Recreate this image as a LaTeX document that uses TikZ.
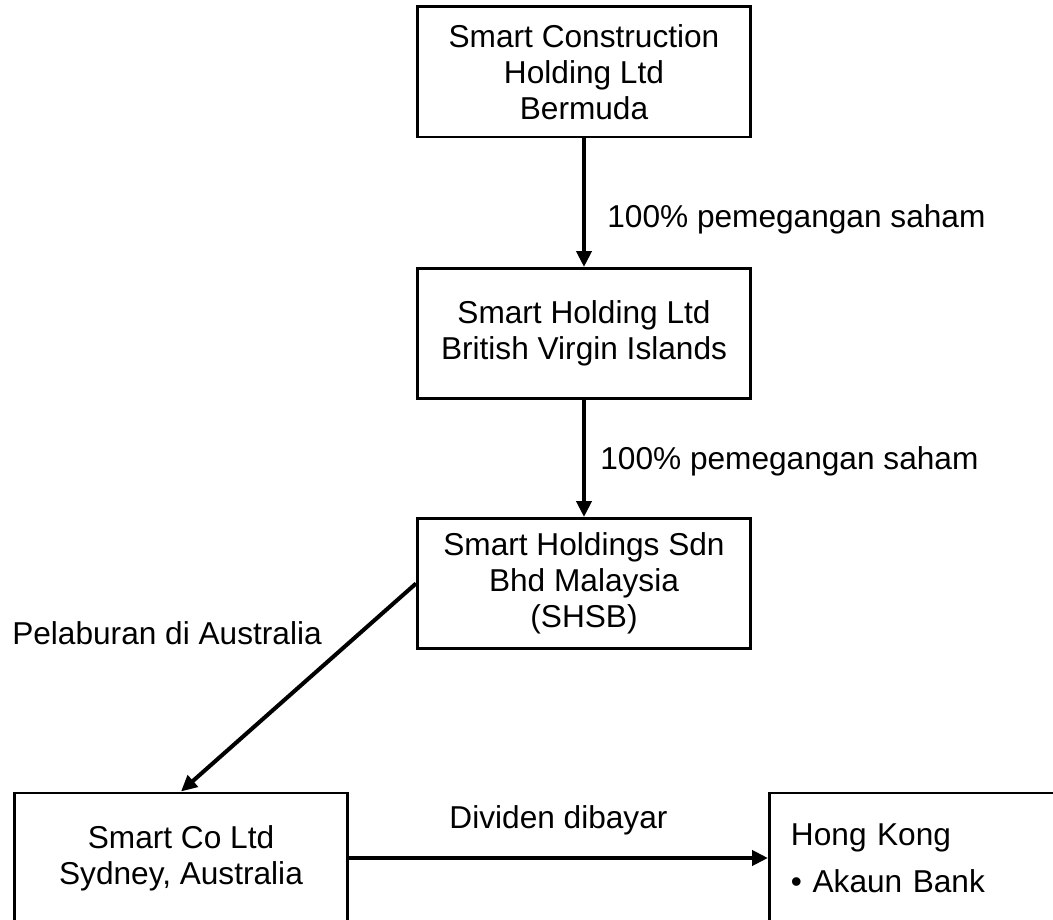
\documentclass[tikz,border=0pt]{standalone}
\usepackage{fontspec}
\setmainfont{Liberation Sans}
\usetikzlibrary{arrows.meta, positioning}

\begin{document}
\begin{tikzpicture}[
    font=\fontsize{18}{20.5}\selectfont,
    entity/.style={draw, line width=1.7pt, minimum width=6.66cm, minimum height=2.6cm, align=center},
    flow/.style={line width=2.3pt, -{Triangle[length=0.32cm, width=0.3cm]}}
  ]
  \useasboundingbox (0,0) rectangle (21.06,-18.4);

  % ownership chain
  \node[entity] (bermuda) at (11.68,-1.44) {Smart Construction\\Holding Ltd\\Bermuda};
  \node[entity] (bvi) at (11.68,-6.67) {Smart Holding Ltd\\British Virgin Islands};
  \node[entity] (shsb) at (11.68,-11.67) {Smart Holdings Sdn\\Bhd Malaysia\\(SHSB)};

  % bottom row
  \node[entity] (sydney) at (3.62,-17.16) {Smart Co Ltd\\Sydney, Australia};
  \node[entity, anchor=west, text width=5.8cm, align=left, inner xsep=0.42cm] (hk) at (15.36,-17.16)
    {Hong Kong\\[6pt]\textbullet\ Akaun Bank};

  \draw[flow] (bermuda) -- (bvi) node[pos=0.63, right=0.31cm] {100\% pemegangan saham};
  \draw[flow] (bvi) -- (shsb) node[pos=0.52, right=0.17cm] {100\% pemegangan saham};
  \draw[flow] (shsb.west) -- (sydney.north) node[pos=0.24, left=0.6cm] {Pelaburan di Australia};
  \draw[flow] (sydney) -- (hk) node[midway, above=0.3cm] {Dividen dibayar};
\end{tikzpicture}
\end{document}
